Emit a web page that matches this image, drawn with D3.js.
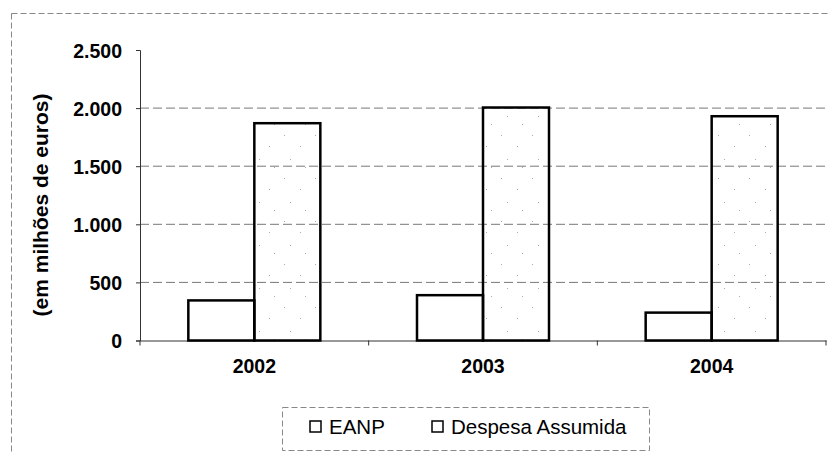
<!DOCTYPE html>
<html><head><meta charset="utf-8">
<script src="https://cdn.jsdelivr.net/npm/d3@7"></script>
<style>body{margin:0;background:#fff}svg{display:block}</style>
</head><body><svg id="c" width="828" height="453"></svg>
<script>
const years = ["2002","2003","2004"];
const seriesNames = ["EANP","Despesa Assumida"];
const eanp = [345, 390, 240];
const despesa = [1870, 2005, 1930];
const yTicks = [0, 500, 1000, 1500, 2000, 2500];
const yTitle = "(em milhões de euros)";

const svg = d3.select("#c");
const font = "'Liberation Sans', Arial, sans-serif";
const L = 140, R = 826, T = 50, B = 340.5;

// sparse dotted pattern for Despesa
const defs = svg.append("defs");
const pat = defs.append("pattern").attr("id","dots").attr("patternUnits","userSpaceOnUse")
  .attr("width",31).attr("height",43);
[[5,6],[21,17],[11,30],[26,38]].forEach(p=>pat.append("rect").attr("x",p[0]).attr("y",p[1]).attr("width",1).attr("height",1).attr("fill","#aaa"));

// outer dashed border
svg.append("rect").attr("x",11.5).attr("y",13.5).attr("width",830).attr("height",460)
  .attr("fill","none").attr("stroke","#888").attr("stroke-dasharray","6,3").attr("stroke-width",1);

const x = d3.scaleBand().domain(years).range([L,R]).paddingInner(0).paddingOuter(0);
const y = d3.scaleLinear().domain([0,2500]).range([B,T]);
const bw = 66;

// gridlines
svg.append("g").selectAll("line").data(yTicks.filter(t=>t>0 && t<2500)).join("line")
  .attr("x1",L).attr("x2",R).attr("y1",d=>y(d)).attr("y2",d=>y(d))
  .attr("stroke","#777").attr("stroke-dasharray","9,4").attr("stroke-width",1);

// y axis
const ya = svg.append("g").attr("transform",`translate(${L},0)`)
  .call(d3.axisLeft(y).tickValues(yTicks).tickSize(4).tickPadding(14)
    .tickFormat(d=>d3.format(",")(d).replace(/,/g,".")));
ya.select(".domain").attr("stroke","#333");
ya.selectAll(".tick line").attr("stroke","#333");
ya.selectAll("text").attr("font-family",font).attr("font-size",19.5).attr("font-weight","bold").attr("fill","#000").attr("dy","0.36em");

// x axis
const xa = svg.append("g").attr("transform",`translate(0,${B})`)
  .call(d3.axisBottom(x).tickSize(0).tickPadding(18));
xa.select(".domain").attr("stroke","#333");
xa.selectAll("text").attr("font-family",font).attr("font-size",19.5).attr("font-weight","bold").attr("fill","#000").attr("dy","0.75em");
// category separator ticks
svg.append("g").selectAll("line").data(years.map((d,i)=>i).concat([3])).join("line")
  .attr("x1",i=>L+i*x.bandwidth()).attr("x2",i=>L+i*x.bandwidth())
  .attr("y1",B).attr("y2",B+5).attr("stroke","#333");

// bars
const data = years.map((yr,i)=>({yr, vals:[eanp[i], despesa[i]]}));
const g = svg.append("g");
data.forEach(d=>{
  const cx = x(d.yr) + x.bandwidth()/2;
  d.vals.forEach((v,j)=>{
    g.append("rect").attr("x", cx - bw + j*bw).attr("y", y(v)).attr("width", bw).attr("height", B - y(v))
      .attr("fill", j===0 ? "#fff" : "url(#dots)")
      .attr("stroke","#000").attr("stroke-width",2.5);
  });
});

// y title
svg.append("text").attr("transform","translate(48,205) rotate(-90)").attr("text-anchor","middle")
  .attr("font-family",font).attr("font-size",21).attr("font-weight","bold").text(yTitle);

// legend
const lg = svg.append("g");
lg.append("rect").attr("x",282.5).attr("y",407.5).attr("width",367).attr("height",43)
  .attr("fill","#fff").attr("stroke","#888").attr("stroke-dasharray","6,3");
const lx = [310, 432];
seriesNames.forEach((n,i)=>{
  lg.append("rect").attr("x",lx[i]).attr("y",421).attr("width",11).attr("height",11)
    .attr("fill","#fff").attr("stroke","#000").attr("stroke-width",1.5);
  lg.append("text").attr("x",lx[i]+19).attr("y",434).attr("font-family",font).attr("font-size",20.5)
    .attr("fill","#000").text(n);
});
</script></body></html>
